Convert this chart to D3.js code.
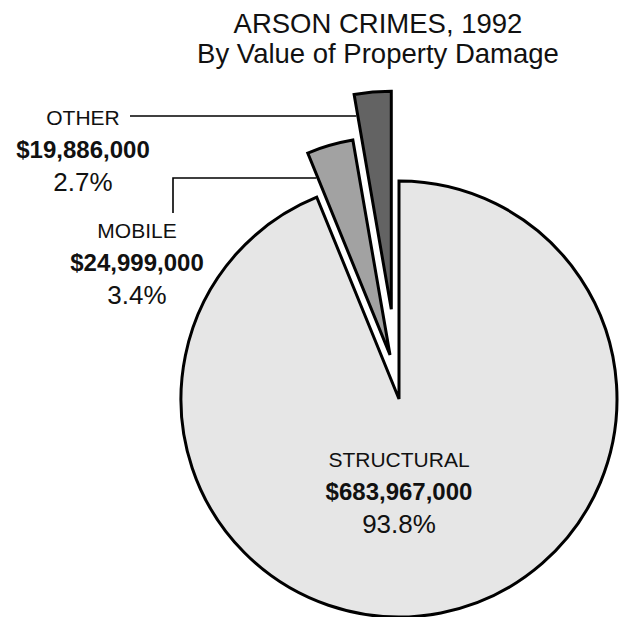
<!DOCTYPE html>
<html>
<head>
<meta charset="utf-8">
<script src="https://cdn.jsdelivr.net/npm/d3@7"></script>
<style>
  html, body { margin: 0; padding: 0; background: #fff; }
  svg { display: block; }
  text { font-family: "Liberation Sans", Arial, Helvetica, sans-serif; fill: #111; }
</style>
</head>
<body>
<svg id="chart" width="620" height="617"></svg>
<script>
// ---- data ----
const titleLines = ["ARSON CRIMES, 1992", "By Value of Property Damage"];
const categories = ["STRUCTURAL", "MOBILE", "OTHER"];
const values = [683967000, 24999000, 19886000];
const percentLabels = ["93.8%", "3.4%", "2.7%"];

// ---- style / layout ----
const W = 620, H = 617;
const cx = 399, cy = 399, R = 218;
const fills = ["#e6e6e6", "#a2a2a2", "#636363"];
const explodeDist = [0, 45, 90];
const explodeShiftDeg = [0, 4.5, 0];
const labelAnchor = [{x: 399, y: 467}, {x: 137, y: 238}, {x: 83, y: 125}];
const lineGap = 33;

const svg = d3.select("#chart");

// title
svg.append("g").selectAll("text").data(titleLines).join("text")
  .attr("x", 378).attr("y", (d, i) => 33 + i * 30)
  .attr("text-anchor", "middle")
  .style("font-size", "27.5px")
  .text(d => d);

const pie = d3.pie().sort(null).value(d => d).startAngle(0).endAngle(2 * Math.PI);
const arcs = pie(values);
const arc = d3.arc().innerRadius(0).outerRadius(R);

function offsetOf(a, i) {
  const mid = (a.startAngle + a.endAngle) / 2 + explodeShiftDeg[i] * Math.PI / 180;
  return [Math.sin(mid) * explodeDist[i], -Math.cos(mid) * explodeDist[i]];
}

const g = svg.append("g").attr("transform", `translate(${cx},${cy})`);
g.selectAll("path").data(arcs).join("path")
  .attr("d", arc)
  .attr("transform", (d, i) => { const o = offsetOf(d, i); return `translate(${o[0]},${o[1]})`; })
  .attr("fill", (d, i) => fills[i])
  .attr("stroke", "#000")
  .attr("stroke-width", 3)
  .attr("stroke-linejoin", "miter");

// left edge (start-angle radius) x at a given page y for an exploded slice
function leftEdgeX(i, y) {
  const a = arcs[i];
  const o = offsetOf(a, i);
  const tx = cx + o[0], ty = cy + o[1];
  const ex = tx + Math.sin(a.startAngle) * R, ey = ty - Math.cos(a.startAngle) * R;
  const t = (y - ty) / (ey - ty);
  return tx + t * (ex - tx) - 1.5;
}

// leader lines
const lines = svg.append("g").attr("fill", "none").attr("stroke", "#000").attr("stroke-width", 1.6);
lines.append("path").attr("d", `M130,116H${leftEdgeX(2, 116)}`);
lines.append("path").attr("d", `M173,213V178H${leftEdgeX(1, 178)}`);

// labels
const fmt = d3.format("$,");
categories.forEach((c, i) => {
  const p = labelAnchor[i];
  const lg = svg.append("g");
  lg.append("text").attr("x", p.x).attr("y", p.y).attr("text-anchor", "middle")
    .style("font-size", "21px").text(c);
  lg.append("text").attr("x", p.x).attr("y", p.y + lineGap).attr("text-anchor", "middle")
    .style("font-size", "24px").style("font-weight", "bold").text(fmt(values[i]));
  lg.append("text").attr("x", p.x).attr("y", p.y + 2 * lineGap).attr("text-anchor", "middle")
    .style("font-size", "26px").text(percentLabels[i]);
});
</script>
</body>
</html>
